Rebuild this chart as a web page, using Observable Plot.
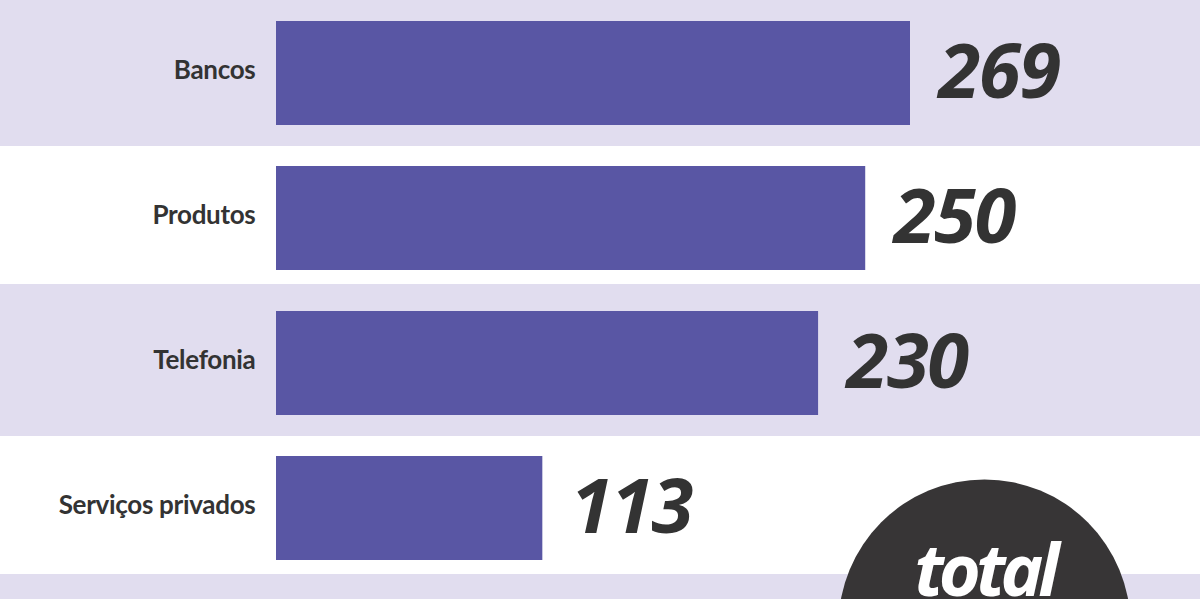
<!DOCTYPE html>
<html>
<head>
<meta charset="utf-8">
<script src="https://cdn.jsdelivr.net/npm/d3@7"></script>
<script src="https://cdn.jsdelivr.net/npm/@observablehq/plot@0.6"></script>
<style>
  html, body { margin: 0; padding: 0; background: #e1ddef; overflow: hidden; }
  #chart svg { display: block; overflow: hidden; }
</style>
</head>
<body>
<div id="chart"></div>
<script>
// Data
const categories = ["Bancos", "Produtos", "Telefonia", "Serviços privados"];
const values = [269, 250, 230, 113];
const whiteRows = ["Produtos", "Serviços privados"];
const totalLabel = "total";

const rows = categories.map((c, i) => ({name: c, value: values[i]}));
const yDomain = [...categories, totalLabel];

const valueFont = "'Open Sans', 'Noto Sans', sans-serif";
const labelFont = "Lato, 'Noto Sans', sans-serif";

const chart = Plot.plot({
  width: 1200,
  height: 599,
  marginTop: 0,
  marginRight: 0,
  marginBottom: 0,
  marginLeft: 0,
  style: {background: "#e1ddef", overflow: "hidden"},
  x: {domain: [0, 269], range: [276, 910], axis: null},
  y: {domain: yDomain, range: [0, 726.5], paddingInner: 0.284, paddingOuter: 0.142, align: 0.5, axis: null},
  marks: [
    Plot.cell(whiteRows, {y: d => d, fill: "#ffffff", insetTop: -20, insetBottom: -14}),
    Plot.barX(rows, {y: "name", x: "value", fill: "#5956a4"}),
    Plot.text(rows, {
      y: "name", x: () => 0, text: "name", textAnchor: "end", dx: -21, dy: -3,
      fontSize: 26, fontWeight: 700, fontFamily: labelFont, fill: "#333333"
    }),
    Plot.text(rows, {
      y: "name", x: "value", text: d => String(d.value), textAnchor: "start", dx: 28,
      fontSize: 76, fontWeight: 700, fontStyle: "italic", fontFamily: valueFont, fill: "#333333"
    }),
    Plot.dot([totalLabel], {y: d => d, x: () => 300.4, r: 146, fill: "#373536", stroke: null, dy: -28}),
    Plot.text([totalLabel], {
      y: d => d, x: () => 300.4, text: d => d, textAnchor: "middle", dy: -81,
      fontSize: 72, fontWeight: 700, fontStyle: "italic", fontFamily: valueFont, fill: "#ffffff"
    })
  ]
});

// tighten letter-spacing of the big italic texts
chart.querySelectorAll("[font-size='76']").forEach(g => g.setAttribute("letter-spacing", "-1.5"));
chart.querySelectorAll("[font-size='72']").forEach(g => g.setAttribute("letter-spacing", "-5"));
chart.querySelectorAll("[font-size='26']").forEach(g => g.setAttribute("letter-spacing", "-0.3"));
document.getElementById("chart").appendChild(chart);
</script>
</body>
</html>
